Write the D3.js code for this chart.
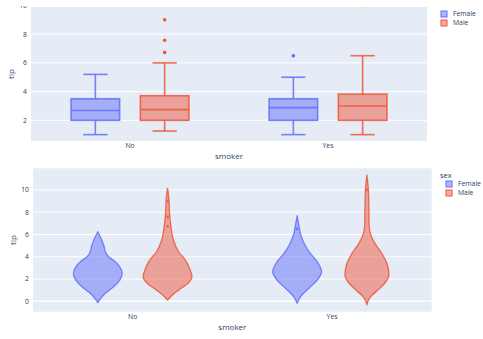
<!DOCTYPE html>
<html>
<head>
<meta charset="utf-8">
<script src="https://cdn.jsdelivr.net/npm/d3@7"></script>
<style>
  body { margin: 0; background: #fff; }
  text { font-family: "Open Sans", sans-serif; fill: #2a3f5f; }
</style>
</head>
<body>
<svg id="chart" width="483" height="339"></svg>
<script>
// categories
const smoker = ['No', 'Yes'];
const sexes = ['Female', 'Male'];
const colors = { Female: '#636efa', Male: '#EF553B' };

// box stats: [smoker, sex, low whisker, q1, median, q3, high whisker]
const boxStats = [
  ['No', 'Female', 1.0, 2.0, 2.68, 3.5, 5.2],
  ['No', 'Male', 1.25, 2.0, 2.74, 3.71, 6.0],
  ['Yes', 'Female', 1.0, 2.0, 2.88, 3.5, 5.0],
  ['Yes', 'Male', 1.0, 2.0, 3.0, 3.82, 6.5]
];

// outliers: [smoker, sex, tip]
const outliers = [
  ['No', 'Male', 9.0], ['No', 'Male', 7.58], ['No', 'Male', 6.73],
  ['Yes', 'Female', 6.5],
  ['Yes', 'Male', 10.0]
];

// violin density profiles: [tip, relative width]
const densNoFemale = [[-0.12,0],[0.27,0.12],[0.72,0.31],[1.31,0.65],[1.9,0.9],[2.5,1],[3.1,0.9],[3.56,0.71],[4.0,0.44],[4.45,0.31],[4.9,0.26],[5.66,0.13],[6.25,0]];
const densNoMale = [[0.12,0],[0.57,0.2],[1.0,0.45],[1.62,0.84],[2.2,1],[2.96,0.9],[3.7,0.73],[4.45,0.45],[5.5,0.24],[6.7,0.14],[7.9,0.08],[9.1,0.06],[10.15,0]];
const densYesFemale = [[-0.18,0],[0.41,0.14],[1.17,0.48],[1.9,0.82],[2.66,1],[3.56,0.82],[4.3,0.54],[5.06,0.32],[5.95,0.15],[6.7,0.08],[7.69,0]];
const densYesMale = [[-0.33,0],[0.27,0.1],[0.86,0.37],[1.62,0.73],[2.36,0.9],[3.26,0.84],[4.16,0.65],[5.06,0.37],[5.95,0.16],[6.85,0.09],[8.35,0.08],[10,0.06],[11.34,0]];

const violins = [
  ['No', 'Female', densNoFemale],
  ['No', 'Male', densNoMale],
  ['Yes', 'Female', densYesFemale],
  ['Yes', 'Male', densYesMale]
];

const ticksTop = [2, 4, 6, 8, 10];
const ticksBottom = [0, 2, 4, 6, 8, 10];

const svg = d3.select('#chart');

function panel(box, yDomain, ticks, id) {
  const g = svg.append('g');
  g.append('rect')
    .attr('x', box.l).attr('y', box.t)
    .attr('width', box.r - box.l).attr('height', box.b - box.t)
    .attr('fill', '#E5ECF6');

  svg.append('clipPath').attr('id', id)
    .append('rect')
    .attr('x', box.l).attr('y', box.t)
    .attr('width', box.r - box.l).attr('height', box.b - box.t);

  const x = d3.scaleBand().domain(smoker).range([box.l, box.r]);
  const bw = x.bandwidth();
  const sub = d3.scaleBand().domain(sexes).range([0.15 * bw, 0.85 * bw]);
  const y = d3.scaleLinear().domain(yDomain).range([box.b, box.t]);

  // grid
  g.selectAll('.grid')
    .data(ticks.filter(t => y(t) >= box.t && y(t) <= box.b))
    .enter()
    .append('line')
    .attr('x1', box.l).attr('x2', box.r)
    .attr('y1', d => y(d)).attr('y2', d => y(d))
    .attr('stroke', '#fff')
    .attr('stroke-width', d => d === 0 ? 1.6 : 1);

  // y tick labels
  const lab = g.append('g');
  lab.selectAll('text')
    .data(ticks)
    .enter()
    .append('text')
    .attr('class', 'ytick')
    .attr('x', box.l - 4)
    .attr('y', d => y(d))
    .attr('dy', '0.35em')
    .attr('text-anchor', 'end')
    .attr('font-size', 6.8)
    .text(d => d);

  // x tick labels
  g.selectAll('.xt')
    .data(smoker)
    .enter()
    .append('text')
    .attr('x', d => x(d) + bw / 2)
    .attr('y', box.b + 7)
    .attr('text-anchor', 'middle')
    .attr('font-size', 6.8)
    .text(d => d);

  g.append('text')
    .attr('x', (box.l + box.r) / 2)
    .attr('y', box.b + 18)
    .attr('text-anchor', 'middle')
    .attr('font-size', 8)
    .text('smoker');

  g.append('text')
    .attr('transform', `translate(${box.l - 20},${(box.t + box.b) / 2}) rotate(-90)`)
    .attr('text-anchor', 'middle')
    .attr('dy', '0.35em')
    .attr('font-size', 8)
    .text('tip');

  const marks = g.append('g').attr('clip-path', `url(#${id})`);
  return { x, sub, y, marks, g };
}

// ---------- top: box plot ----------
const topP = panel({ l: 31, r: 427, t: 7, b: 141 }, [0.557, 9.895], ticksTop, 'clipTop');
// top "10" label is mostly cut off in the picture
svg.append('clipPath').attr('id', 'clipTopLabel')
  .append('rect').attr('x', 0).attr('y', 6).attr('width', 31).attr('height', 2);
topP.g.selectAll('.ytick').filter(d => d === 10).attr('clip-path', 'url(#clipTopLabel)');

const boxW = topP.sub.bandwidth() * 0.7;
const boxes = topP.marks.selectAll('.box')
  .data(boxStats)
  .enter()
  .append('g')
  .attr('transform', d => `translate(${topP.x(d[0]) + topP.sub(d[1]) + topP.sub.bandwidth() / 2},0)`)
  .attr('stroke', d => colors[d[1]])
  .attr('stroke-opacity', 0.85)
  .attr('stroke-width', 1.6);

boxes.append('line')
  .attr('x1', 0).attr('x2', 0)
  .attr('y1', d => topP.y(d[2])).attr('y2', d => topP.y(d[3]));
boxes.append('line')
  .attr('x1', 0).attr('x2', 0)
  .attr('y1', d => topP.y(d[5])).attr('y2', d => topP.y(d[6]));
boxes.append('line')
  .attr('x1', -boxW / 4).attr('x2', boxW / 4)
  .attr('y1', d => topP.y(d[2])).attr('y2', d => topP.y(d[2]));
boxes.append('line')
  .attr('x1', -boxW / 4).attr('x2', boxW / 4)
  .attr('y1', d => topP.y(d[6])).attr('y2', d => topP.y(d[6]));
boxes.append('rect')
  .attr('x', -boxW / 2).attr('width', boxW)
  .attr('y', d => topP.y(d[5]))
  .attr('height', d => topP.y(d[3]) - topP.y(d[5]))
  .attr('fill', d => colors[d[1]])
  .attr('fill-opacity', 0.5);
boxes.append('line')
  .attr('x1', -boxW / 2).attr('x2', boxW / 2)
  .attr('y1', d => topP.y(d[4])).attr('y2', d => topP.y(d[4]));

topP.marks.selectAll('.out')
  .data(outliers)
  .enter()
  .append('circle')
  .attr('cx', d => topP.x(d[0]) + topP.sub(d[1]) + topP.sub.bandwidth() / 2)
  .attr('cy', d => topP.y(d[2]))
  .attr('r', 1.8)
  .attr('fill', d => colors[d[1]]);

// ---------- bottom: violin ----------
const botP = panel({ l: 33, r: 431.7, t: 168.3, b: 311.7 }, [-0.934, 11.944], ticksBottom, 'clipBot');
const halfW = d3.scaleLinear().domain([0, 1]).range([0, botP.sub.bandwidth() * 0.35]);

violins.forEach(([sm, sx, dens]) => {
  const cx = botP.x(sm) + botP.sub(sx) + botP.sub.bandwidth() / 2;
  const area = d3.area()
    .curve(d3.curveMonotoneY)
    .y(d => botP.y(d[0]))
    .x0(d => cx - halfW(d[1]))
    .x1(d => cx + halfW(d[1]));
  botP.marks.append('path')
    .datum(dens)
    .attr('d', area)
    .attr('fill', colors[sx])
    .attr('fill-opacity', 0.5)
    .attr('stroke', colors[sx])
    .attr('stroke-opacity', 0.85)
    .attr('stroke-width', 1.3)
    .attr('stroke-linejoin', 'round');
});

botP.marks.selectAll('.vout')
  .data(outliers)
  .enter()
  .append('circle')
  .attr('cx', d => botP.x(d[0]) + botP.sub(d[1]) + botP.sub.bandwidth() / 2)
  .attr('cy', d => botP.y(d[2]))
  .attr('r', 1.4)
  .attr('fill', d => colors[d[1]])
  .attr('fill-opacity', 0.8);

// ---------- legends ----------
function legend(x0, y0, title) {
  const lg = svg.append('g');
  let yy = y0;
  if (title) {
    lg.append('text').attr('x', x0 - 6).attr('y', y0).attr('dy', '0.35em')
      .attr('font-size', 7.5).text(title);
    yy += 9;
  }
  const items = lg.selectAll('.li')
    .data(sexes)
    .enter()
    .append('g')
    .attr('transform', (d, i) => `translate(${x0},${yy + i * 9})`);
  items.append('rect')
    .attr('x', 0).attr('y', -3).attr('width', 6).attr('height', 6)
    .attr('fill', d => colors[d]).attr('fill-opacity', 0.5)
    .attr('stroke', d => colors[d]).attr('stroke-width', 1);
  items.append('text')
    .attr('x', 12).attr('dy', '0.35em')
    .attr('font-size', 6.8)
    .text(d => d);
}
legend(441, 14, null);
legend(446, 175, 'sex');
</script>
</body>
</html>
